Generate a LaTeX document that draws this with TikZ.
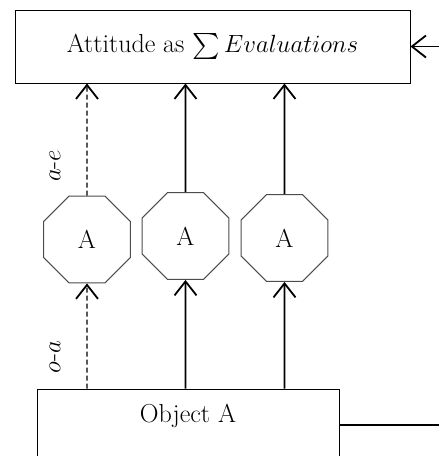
\documentclass[tikz,border=0pt]{standalone}
\usepackage{amsmath,amssymb}
\usetikzlibrary{shapes.geometric,arrows.meta}

\begin{document}
\begin{tikzpicture}[x=1pt, y=-1pt,
  box/.style={draw, rectangle, line width=1pt, inner sep=0pt,
    font=\fontsize{26}{30}\selectfont},
  oct/.style={draw=black!70, regular polygon, regular polygon sides=8,
    minimum size=94pt, inner sep=0pt, line width=1pt,
    font=\fontsize{26}{30}\selectfont},
  lbl/.style={rotate=90, inner sep=0pt, font=\fontsize{26}{30}\selectfont},
  link/.style={line width=1.8pt,
    -{Straight Barb[length=14pt,width=22pt,line width=1.8pt]}},
  weak/.style={line width=1.2pt, dash pattern=on 5pt off 3pt,
    -{Straight Barb[length=14pt,width=22pt,line width=1.8pt]}}]
  \useasboundingbox (0,0) rectangle (439,456);
  \clip (0,0) rectangle (439,456);
  \node[box, minimum width=395pt, minimum height=73pt] (att) at (212.5,46.5)
    {Attitude as $\sum Evaluations$};
  \node[oct] (o1) at (87,239.5)  {A};
  \node[oct] (o2) at (185.5,236) {A};
  \node[oct] (o3) at (284.5,238) {A};
  \node[box, minimum width=302pt, text height=33pt, text depth=60pt,
    anchor=base] (obj) at (188,422) {Object A};
  \node[lbl] (ae) at (55,166) {$a$-$e$};
  \node[lbl] (oa) at (55,357) {$o$-$a$};
  \coordinate (in) at (439,46.5);
  \coordinate (out) at (439,425);
  % lower row
  \draw[weak] (obj.north -| o1) -- (o1.south);
  \draw[link] (obj.north -| o2) -- (o2.south);
  \draw[link] (obj.north -| o3) -- (o3.south);
  % upper row
  \draw[weak] (o1.north) -- (att.south -| o1);
  \draw[link] (o2.north) -- (att.south -| o2);
  \draw[link] (o3.north) -- (att.south -| o3);
  \draw[link] (in) -- (att.east);
  \draw[line width=1.2pt] (obj.east |- out) -- (out);
\end{tikzpicture}
\end{document}
